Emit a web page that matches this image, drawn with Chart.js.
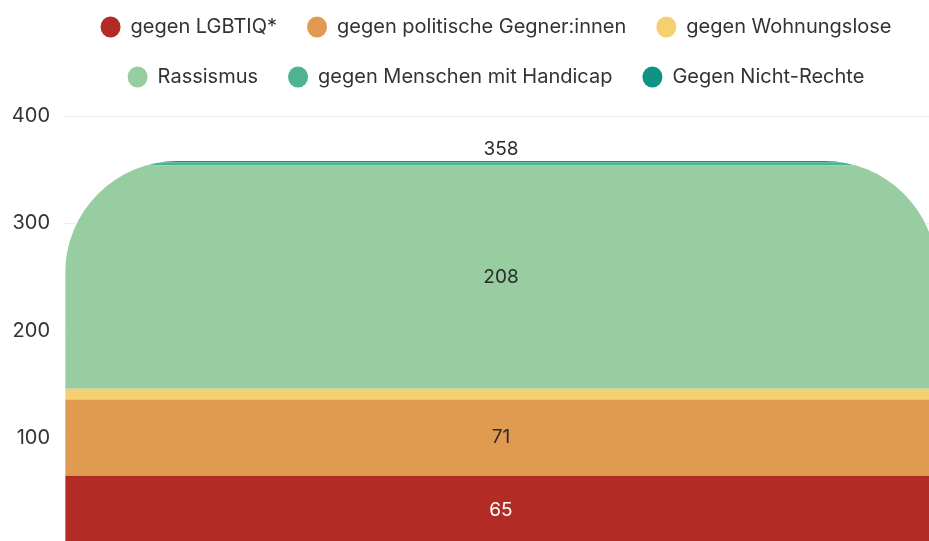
<!DOCTYPE html>
<html>
<head>
<meta charset="utf-8">
<script src="https://cdn.jsdelivr.net/npm/chart.js@4"></script>
<style>
  html, body { margin: 0; padding: 0; background: #fff; overflow: hidden; }
  #wrap { position: relative; width: 929px; height: 541px; overflow: hidden; }
  #chart { position: absolute; left: 0; top: -13px; }
</style>
</head>
<body>
<div id="wrap"><canvas id="chart" width="1000" height="570"></canvas></div>
<script>
const categories = ["2023"];
const seriesNames = [
  "gegen LGBTIQ*",
  "gegen politische Gegner:innen",
  "gegen Wohnungslose",
  "Rassismus",
  "gegen Menschen mit Handicap",
  "Gegen Nicht-Rechte"
];
const seriesValues = [65, 71, 10, 208, 3, 1];
const seriesColors = ["#b22b24", "#e09b51", "#f5d070", "#97cda0", "#4db393", "#0e9384"];
const yMin = 0;
const yMax = 400;
const yTicks = [100, 200, 300, 400];

const fontFamily = "Inter, 'Noto Sans', sans-serif";
const textColor = "#333333";

const datasets = seriesNames.map((name, i) => ({
  label: name,
  data: [seriesValues[i]],
  backgroundColor: seriesColors[i],
  borderWidth: 0,
  categoryPercentage: 1,
  barPercentage: 0.995
}));

// rounded top of the whole stack + value labels
const stackPlugin = {
  id: "stackPlugin",
  beforeInit(chart) {
    const fit = chart.legend.fit;
    chart.legend.fit = function () {
      fit.bind(chart.legend)();
      this.height += 19;
    };
  },
  afterLayout(chart) {
    // center the legend a little left of the plot, like the original
    chart.legend.left = 53;
  },
  beforeDatasetsDraw(chart) {
    const ctx = chart.ctx;
    const first = chart.getDatasetMeta(0).data[0];
    const last = chart.getDatasetMeta(chart.data.datasets.length - 1).data[0];
    const left = first.x - first.width / 2;
    const right = first.x + first.width / 2;
    const top = last.y;
    const bottom = first.base;
    const r = 112;
    ctx.save();
    ctx.beginPath();
    ctx.moveTo(left, bottom);
    ctx.lineTo(left, top + r);
    ctx.arcTo(left, top, left + r, top, r);
    ctx.lineTo(right - r, top);
    ctx.arcTo(right, top, right, top + r, r);
    ctx.lineTo(right, bottom);
    ctx.closePath();
    ctx.clip();
  },
  afterDatasetsDraw(chart) {
    const ctx = chart.ctx;
    ctx.restore();
    ctx.save();
    ctx.font = "19px " + fontFamily;
    ctx.textAlign = "center";
    ctx.textBaseline = "middle";
    let total = 0;
    chart.data.datasets.forEach((ds, i) => {
      const v = ds.data[0];
      total += v;
      if (v < 20) return;
      const el = chart.getDatasetMeta(i).data[0];
      ctx.fillStyle = i === 0 ? "#ffffff" : "#2b2b2b";
      ctx.fillText(String(v), el.x, (el.y + el.base) / 2);
    });
    const lastEl = chart.getDatasetMeta(chart.data.datasets.length - 1).data[0];
    ctx.fillStyle = "#2b2b2b";
    ctx.fillText(String(total), lastEl.x, lastEl.y - 12);
    ctx.restore();
  }
};

new Chart(document.getElementById("chart"), {
  type: "bar",
  data: { labels: categories, datasets },
  plugins: [stackPlugin],
  options: {
    responsive: false,
    animation: false,
    layout: { padding: { left: 0, right: 61, top: 0, bottom: 11.5 } },
    plugins: {
      legend: {
        position: "top",
        labels: {
          usePointStyle: true,
          pointStyle: "circle",
          boxWidth: 20,
          boxHeight: 15,
          pointStyleWidth: 20,
          padding: 30,
          color: textColor,
          font: { family: fontFamily, size: 20 }
        }
      },
      tooltip: { enabled: false }
    },
    scales: {
      x: { stacked: true, display: false },
      y: {
        stacked: true,
        min: yMin,
        max: yMax,
        afterFit(scale) {
          scale.width = 63;
          scale.paddingTop = 0;
          scale.paddingBottom = 0;
        },
        afterBuildTicks(scale) { scale.ticks = yTicks.map(v => ({ value: v })); },
        border: { display: false },
        grid: { color: "#eeeeee", drawTicks: false },
        ticks: {
          padding: 13,
          color: textColor,
          font: { family: fontFamily, size: 20 }
        }
      }
    }
  }
});
</script>
</body>
</html>
